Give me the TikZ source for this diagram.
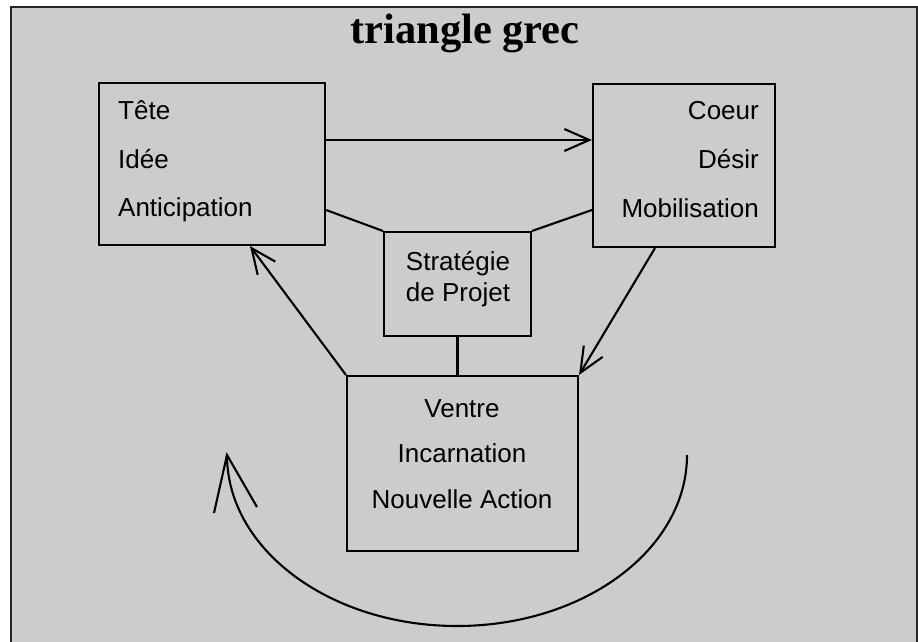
\documentclass[tikz,border=0pt]{standalone}
\usepackage{fontspec}
\setmainfont{Liberation Sans}
\newfontfamily\titlefont{Liberation Serif}
\usetikzlibrary{arrows.meta}
\definecolor{bg}{HTML}{CCCCCC}
\begin{document}
\begin{tikzpicture}[x=1pt,y=-1pt,
  box/.style={draw, line width=2.1pt, inner sep=0pt},
  txt/.style={inner sep=0pt, font=\fontsize{26}{26}\selectfont},
  link/.style={line width=2.1pt},
  arr/.style={line width=2.1pt, -{Straight Barb[length=25pt,width=22pt]}}]
\useasboundingbox (0,0) rectangle (918,641);
\fill[white] (0,0) rectangle (918,641);
\draw[line width=1.5pt, draw=black!85, fill=bg] (11,7) rectangle (917,660);
\node[font=\titlefont\bfseries\fontsize{42.5}{42.5}\selectfont, anchor=base, inner sep=0pt] (title) at (465,43) {triangle grec};
% boxes
\node[box, minimum width=226pt, minimum height=162pt] (tete) at (212,164) {};
\node[box, minimum width=182pt, minimum height=163pt] (coeur) at (684,165.5) {};
\node[box, minimum width=147pt, minimum height=104pt] (strat) at (457.5,284) {};
\node[box, minimum width=231pt, minimum height=175pt] (ventre) at (462.5,463.5) {};
% texts
\node[txt, anchor=base west] (t1) at (118,119) {Tête};
\node[txt, anchor=base west] (t2) at (118,168) {Idée};
\node[txt, anchor=base west] (t3) at (118,216) {Anticipation};
\node[txt, anchor=base east] (c1) at (759,119) {Coeur};
\node[txt, anchor=base east] (c2) at (759,168) {Désir};
\node[txt, anchor=base east] (c3) at (759,217) {Mobilisation};
\node[txt, anchor=base] (s1) at (458,270) {Stratégie};
\node[txt, anchor=base] (s2) at (458,301) {de Projet};
\node[txt, anchor=base] (v1) at (462,417) {Ventre};
\node[txt, anchor=base] (v2) at (462,462) {Incarnation};
\node[txt, anchor=base] (v3) at (462,508) {Nouvelle Action};
% connectors
\draw[arr] ([yshift=24pt]tete.east) -- ([yshift=25.5pt]coeur.west);
\draw[link] ([yshift=-46pt]tete.east) -- (strat.north west);
\draw[link] ([yshift=-44.5pt]coeur.west) -- (strat.north east);
\draw[link] (strat.south) -- (strat.south |- ventre.north);
\draw[arr] (ventre.north west) -- ([xshift=38pt]tete.south);
\draw[arr] ([xshift=-29pt]coeur.south) -- (ventre.north east);
% curved arrow
\coordinate (cs) at (687,455);
\coordinate (ce) at (227,455);
\draw[link] (cs) arc[start angle=0, end angle=180, x radius=230, y radius=171];
\draw[link] (214,513) -- (ce) -- (257,507);
\end{tikzpicture}
\end{document}
